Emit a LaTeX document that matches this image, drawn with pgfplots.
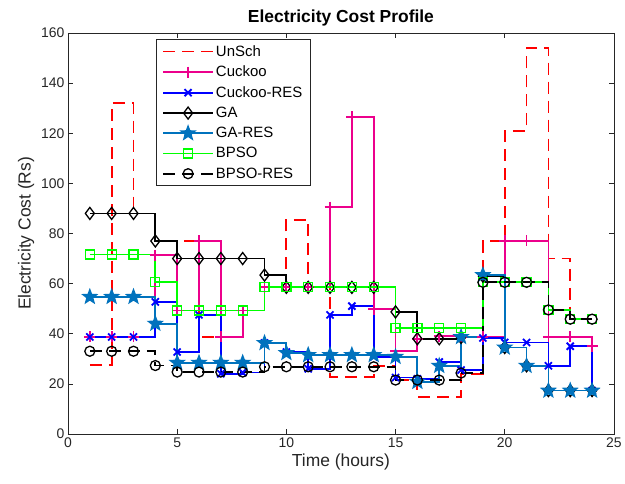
\documentclass[border=0pt]{standalone}
\usepackage{pgfplots}
\pgfplotsset{compat=1.18}
\usepackage{pgfplotstable}
\usepackage{fontspec}
\setmainfont{Liberation Sans}
\usetikzlibrary{plotmarks}

\definecolor{gares}{rgb}{0,0.447,0.741}
\definecolor{axgray}{rgb}{0.15,0.15,0.15}

% filled five-pointed star, like MATLAB's pentagram
\pgfdeclareplotmark{pstar}{%
  \pgfpathmoveto{\pgfpointpolar{90}{\pgfplotmarksize}}%
  \pgfpathlineto{\pgfpointpolar{126}{0.42\pgfplotmarksize}}%
  \pgfpathlineto{\pgfpointpolar{162}{\pgfplotmarksize}}%
  \pgfpathlineto{\pgfpointpolar{198}{0.42\pgfplotmarksize}}%
  \pgfpathlineto{\pgfpointpolar{234}{\pgfplotmarksize}}%
  \pgfpathlineto{\pgfpointpolar{270}{0.42\pgfplotmarksize}}%
  \pgfpathlineto{\pgfpointpolar{306}{\pgfplotmarksize}}%
  \pgfpathlineto{\pgfpointpolar{342}{0.42\pgfplotmarksize}}%
  \pgfpathlineto{\pgfpointpolar{18}{\pgfplotmarksize}}%
  \pgfpathlineto{\pgfpointpolar{54}{0.42\pgfplotmarksize}}%
  \pgfpathclose
  \pgfusepathqfillstroke}

% hourly cost (Rs), stairs from hour x to x+1
\pgfplotstableread{
x  unsch cuckoo cres ga   gares bpso bres
1  27.5  38.7   38.7 88   54.7  71.6 33
2  132   38.7   38.7 88   54.7  71.6 33
3  88    38.7   38.7 88   54.7  71.6 33
4  77    71.4   52.7 77   44    60.5 27.3
5  77    49.3   32.7 70   28.4  49.3 24.7
6  38.7  77     47.5 70   28.4  49.3 24.7
7  38.7  38.7   24   70   28.4  49.3 24.7
8  49.3  49.3   24.5 70   28.4  49.3 24.7
9  58.5  58.5   36.3 63.4 36.3  58.5 26.8
10 85.5  58.5   32.7 58.5 32.3  58.5 26.8
11 58.5  58.5   26   58.5 31.5  58.5 26.8
12 22.7  90.5   47.5 58.5 31.5  58.5 26.8
13 22.7  126.5  51   58.5 31.5  58.5 26.8
14 27    49.8   30.7 58.5 31.5  58.5 26.8
15 21.5  33     22.5 48.7 30.8  42.3 21.5
16 14.8  38     22   38   20.8  42.3 21.5
17 14.8  39     28.7 38   27.2  42.3 21.5
18 24    38.7   25.5 38.5 38.7  42.3 24.3
19 77    38.7   38.3 63   63.4  60.5 60.5
20 121   77     36.5 34.5 34.5  60.5 60.5
21 154   77     36.5 27.2 27.2  60.5 60.5
22 70    38.7   27.2 17.3 17.3  49.5 49.5
23 45.8  38.7   35   17.3 17.3  45.8 45.8
24 45.8  35     17.3 17.3 17.3  45.8 45.8
}\costdata

\begin{document}
\begin{tikzpicture}
\begin{axis}[
  scale only axis, width=546bp, height=401bp,
  xmin=0, xmax=25, ymin=0, ymax=160,
  xtick={0,5,...,25}, ytick={0,20,...,160},
  xtick pos=both, ytick pos=both, tick align=inside,
  major tick length=5bp,
  axis line style={draw=axgray, line width=0.6bp},
  every tick/.style={draw=axgray, line width=0.6bp},
  /pgf/number format/assume math mode=true,
  tick label style={font=\fontsize{14}{16}\selectfont, text=axgray},
  label style={font=\fontsize{17.5}{20}\selectfont, text=axgray},
  title style={font=\bfseries\fontsize{17.5}{20}\selectfont, yshift=-3bp},
  title={Electricity Cost Profile},
  xlabel={Time (hours)},
  ylabel={Electricity Cost (Rs)},
  every axis plot/.append style={const plot, line width=1.8bp},
  legend style={at={(0.161,0.985)}, anchor=north west, draw=axgray,
    line width=0.6bp, font=\fontsize{15}{16}\selectfont,
    row sep=4.3bp, inner xsep=6bp, inner ysep=4bp, fill=white},
  legend cell align=left,
  /tikz/every even column/.append style={column sep=4bp},
  legend image code/.code={%
    \draw[mark repeat=2,mark phase=2] plot coordinates {(0bp,0bp) (25bp,0bp) (50bp,0bp)};},
]
\addplot[red, dash pattern=on 12bp off 7bp] table[x=x, y=unsch] {\costdata};
\addlegendentry{UnSch}
\addplot[magenta, mark=+, mark size=5.5bp] table[x=x, y=cuckoo] {\costdata};
\addlegendentry{Cuckoo}
\addplot[blue, mark=x, mark size=5bp] table[x=x, y=cres] {\costdata};
\addlegendentry{Cuckoo-RES}
\addplot[black, mark=diamond, mark size=6bp, mark options={line width=1.3bp}] table[x=x, y=ga] {\costdata};
\addlegendentry{GA}
\addplot[gares, mark=pstar, mark size=6.5bp, mark options={fill=gares}] table[x=x, y=gares] {\costdata};
\addlegendentry{GA-RES}
\addplot[green, mark=square, mark size=4.5bp, mark options={line width=1.3bp}] table[x=x, y=bpso] {\costdata};
\addlegendentry{BPSO}
\addplot[black, dash pattern=on 12bp off 7bp, mark=o, mark size=5bp, mark options={solid, line width=1.3bp}] table[x=x, y=bres] {\costdata};
\addlegendentry{BPSO-RES}
\end{axis}
\path ([shift={(-68bp,-50bp)}]current axis.south west) rectangle ([shift={(11bp,33bp)}]current axis.north east);
\end{tikzpicture}
\end{document}
